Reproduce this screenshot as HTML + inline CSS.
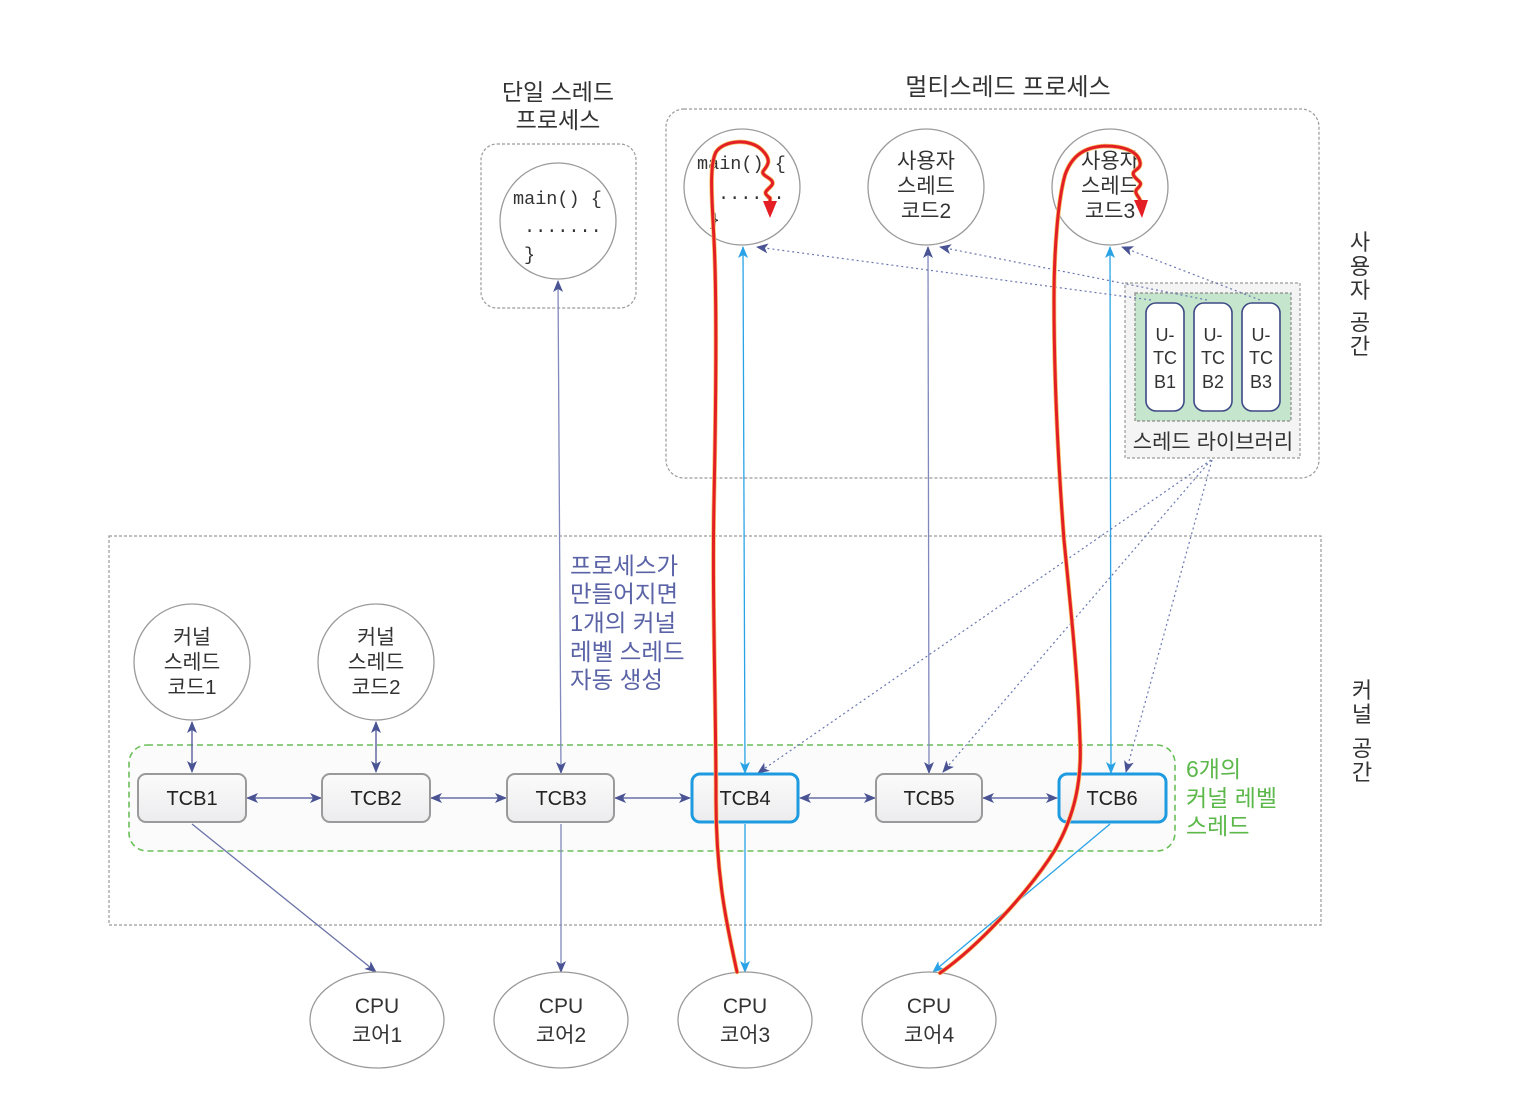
<!DOCTYPE html>
<html><head><meta charset="utf-8">
<style>
html,body{margin:0;padding:0;background:#fff;}
svg{display:block;}
text{font-family:"Liberation Sans","Noto Sans CJK KR",sans-serif;}
.mono{font-family:"Liberation Mono","DejaVu Sans Mono",monospace;}
</style></head>
<body>
<svg width="1524" height="1104" viewBox="0 0 1524 1104" xmlns="http://www.w3.org/2000/svg">
<defs>
<marker id="ad" viewBox="0 0 12 10" refX="11" refY="5" markerWidth="12" markerHeight="10" markerUnits="userSpaceOnUse" orient="auto-start-reverse">
<path d="M0,0 L12,5 L0,10 L3,5 z" fill="#4a5494"/></marker>
<marker id="ab" viewBox="0 0 12 10" refX="11" refY="5" markerWidth="12" markerHeight="10" markerUnits="userSpaceOnUse" orient="auto-start-reverse">
<path d="M0,0 L12,5 L0,10 L3,5 z" fill="#2aa3e6"/></marker>
<linearGradient id="tg" x1="0" y1="0" x2="0" y2="1">
<stop offset="0" stop-color="#fbfbfb"/><stop offset="1" stop-color="#ececee"/></linearGradient>
</defs>

<!-- titles -->
<text x="558" y="100" font-size="23" fill="#333" text-anchor="middle">단일 스레드</text>
<text x="558" y="128" font-size="23" fill="#333" text-anchor="middle">프로세스</text>
<text x="1008" y="95" font-size="24" fill="#333" text-anchor="middle">멀티스레드 프로세스</text>

<!-- single process box -->
<rect x="481" y="144" width="155" height="164" rx="16" fill="#fff" stroke="#9a9a9a" stroke-width="1.2" stroke-dasharray="3 2"/>
<circle cx="558" cy="221" r="58" fill="#fff" stroke="#9a9a9a" stroke-width="1.3"/>
<text class="mono" x="513" y="204" font-size="18.5" fill="#333">main() {</text>
<text class="mono" x="524" y="232" font-size="18.5" fill="#333">.......</text>
<text class="mono" x="524" y="260" font-size="18.5" fill="#333">}</text>

<!-- multi process box -->
<rect x="666" y="109" width="653" height="369" rx="18" fill="#fff" stroke="#9a9a9a" stroke-width="1.2" stroke-dasharray="3 2"/>
<circle cx="742" cy="187" r="58" fill="#fff" stroke="#9a9a9a" stroke-width="1.3"/>
<text class="mono" x="697" y="169" font-size="18.5" fill="#333">main() {</text>
<text class="mono" x="718" y="199" font-size="18.5" fill="#333">......</text>
<text class="mono" x="709" y="225" font-size="18.5" fill="#333">}</text>
<circle cx="926" cy="187" r="58" fill="#fff" stroke="#9a9a9a" stroke-width="1.3"/>
<text x="926" y="168" font-size="21" fill="#333" text-anchor="middle">사용자</text>
<text x="926" y="193" font-size="21" fill="#333" text-anchor="middle">스레드</text>
<text x="926" y="218" font-size="21" fill="#333" text-anchor="middle">코드2</text>
<circle cx="1110" cy="187" r="58" fill="#fff" stroke="#9a9a9a" stroke-width="1.3"/>
<text x="1110" y="168" font-size="21" fill="#333" text-anchor="middle">사용자</text>
<text x="1110" y="193" font-size="21" fill="#333" text-anchor="middle">스레드</text>
<text x="1110" y="218" font-size="21" fill="#333" text-anchor="middle">코드3</text>

<!-- thread library -->
<rect x="1125" y="283" width="175" height="175" fill="#f4f4f4" stroke="#9a9a9a" stroke-width="1.2" stroke-dasharray="3 2"/>
<rect x="1135" y="293" width="156" height="128" fill="#c6e5cd" stroke="#8a8a8a" stroke-width="1.2" stroke-dasharray="3 2"/>
<rect x="1146" y="303" width="38" height="108" rx="10" fill="#fff" stroke="#3e4a86" stroke-width="1.6"/>
<rect x="1194" y="303" width="38" height="108" rx="10" fill="#fff" stroke="#3e4a86" stroke-width="1.6"/>
<rect x="1242" y="303" width="38" height="108" rx="10" fill="#fff" stroke="#3e4a86" stroke-width="1.6"/>
<g font-size="18" fill="#333" text-anchor="middle">
<text x="1165" y="341">U-</text><text x="1165" y="364">TC</text><text x="1165" y="388">B1</text>
<text x="1213" y="341">U-</text><text x="1213" y="364">TC</text><text x="1213" y="388">B2</text>
<text x="1261" y="341">U-</text><text x="1261" y="364">TC</text><text x="1261" y="388">B3</text>
</g>
<text x="1213" y="449" font-size="21" fill="#333" text-anchor="middle">스레드 라이브러리</text>

<!-- kernel space box -->
<rect x="109" y="536" width="1212" height="389" fill="none" stroke="#9a9a9a" stroke-width="1.2" stroke-dasharray="3 2"/>

<!-- side labels -->
<text font-size="22" fill="#333" text-anchor="middle"><tspan x="1360" y="250">사</tspan><tspan x="1360" y="274">용</tspan><tspan x="1360" y="298">자</tspan><tspan x="1360" y="330">공</tspan><tspan x="1360" y="354">간</tspan></text>
<text font-size="22" fill="#333" text-anchor="middle"><tspan x="1362" y="698">커</tspan><tspan x="1362" y="722">널</tspan><tspan x="1362" y="756">공</tspan><tspan x="1362" y="780">간</tspan></text>

<!-- kernel thread circles -->
<circle cx="192" cy="662" r="58" fill="#fff" stroke="#9a9a9a" stroke-width="1.3"/>
<text x="192" y="644" font-size="20.5" fill="#333" text-anchor="middle">커널</text>
<text x="192" y="669" font-size="20.5" fill="#333" text-anchor="middle">스레드</text>
<text x="192" y="694" font-size="20.5" fill="#333" text-anchor="middle">코드1</text>
<circle cx="376" cy="662" r="58" fill="#fff" stroke="#9a9a9a" stroke-width="1.3"/>
<text x="376" y="644" font-size="20.5" fill="#333" text-anchor="middle">커널</text>
<text x="376" y="669" font-size="20.5" fill="#333" text-anchor="middle">스레드</text>
<text x="376" y="694" font-size="20.5" fill="#333" text-anchor="middle">코드2</text>

<!-- blue note -->
<g font-size="23.5" fill="#5a63a6">
<text x="570" y="574">프로세스가</text>
<text x="570" y="602">만들어지면</text>
<text x="570" y="631">1개의 커널</text>
<text x="570" y="660">레벨 스레드</text>
<text x="570" y="688">자동 생성</text>
</g>

<!-- green dashed group -->
<rect x="129" y="745" width="1046" height="106" rx="18" fill="#fbfbfc" stroke="#6bbf59" stroke-width="1.6" stroke-dasharray="6 4"/>
<g font-size="23" fill="#5cb84a">
<text x="1186" y="777">6개의</text>
<text x="1186" y="806">커널 레벨</text>
<text x="1186" y="834">스레드</text>
</g>

<!-- connectors (solid) -->
<g stroke-width="1.3" fill="none">
<line x1="192" y1="722" x2="192" y2="772" stroke="#4a5494" marker-start="url(#ad)" marker-end="url(#ad)"/>
<line x1="376" y1="722" x2="376" y2="772" stroke="#4a5494" marker-start="url(#ad)" marker-end="url(#ad)"/>
<line x1="247" y1="798" x2="321" y2="798" stroke="#4a5494" marker-start="url(#ad)" marker-end="url(#ad)"/>
<line x1="431" y1="798" x2="506" y2="798" stroke="#4a5494" marker-start="url(#ad)" marker-end="url(#ad)"/>
<line x1="615" y1="798" x2="690" y2="798" stroke="#4a5494" marker-start="url(#ad)" marker-end="url(#ad)"/>
<line x1="800" y1="798" x2="875" y2="798" stroke="#4a5494" marker-start="url(#ad)" marker-end="url(#ad)"/>
<line x1="983" y1="798" x2="1057" y2="798" stroke="#4a5494" marker-start="url(#ad)" marker-end="url(#ad)"/>
<line x1="558" y1="281" x2="561" y2="773" stroke="#8088bc" marker-start="url(#ad)" marker-end="url(#ad)"/>
<line x1="561" y1="824" x2="561" y2="972" stroke="#8088bc" marker-end="url(#ad)"/>
<line x1="192" y1="824" x2="376" y2="972" stroke="#6a72a8" marker-end="url(#ad)"/>
<line x1="928" y1="247" x2="929" y2="773" stroke="#8088bc" marker-start="url(#ad)" marker-end="url(#ad)"/>
<line x1="743" y1="247" x2="745" y2="773" stroke="#2aa3e6" marker-start="url(#ab)" marker-end="url(#ab)"/>
<line x1="745" y1="824" x2="745" y2="972" stroke="#2aa3e6" marker-end="url(#ab)"/>
<line x1="1110" y1="247" x2="1111" y2="773" stroke="#2aa3e6" marker-start="url(#ab)" marker-end="url(#ab)"/>
<line x1="1110" y1="824" x2="933" y2="972" stroke="#2aa3e6" marker-end="url(#ab)"/>
</g>

<!-- dotted connectors -->
<g stroke="#6a78b0" stroke-width="1.2" stroke-dasharray="2 3" fill="none">
<line x1="1151" y1="300" x2="757" y2="247" marker-end="url(#ad)"/>
<line x1="1207" y1="300" x2="940" y2="247" marker-end="url(#ad)"/>
<line x1="1260" y1="300" x2="1122" y2="247" marker-end="url(#ad)"/>
<line x1="1211" y1="460" x2="758" y2="773" marker-end="url(#ad)"/>
<line x1="1211" y1="460" x2="943" y2="772" marker-end="url(#ad)"/>
<line x1="1212" y1="460" x2="1126" y2="772" marker-end="url(#ad)"/>
</g>

<!-- TCB boxes -->
<g font-size="20" fill="#222" text-anchor="middle">
<rect x="138" y="774" width="108" height="48" rx="8" fill="url(#tg)" stroke="#9a9a9a" stroke-width="2"/>
<text x="192" y="805">TCB1</text>
<rect x="322" y="774" width="108" height="48" rx="8" fill="url(#tg)" stroke="#9a9a9a" stroke-width="2"/>
<text x="376" y="805">TCB2</text>
<rect x="507" y="774" width="107" height="48" rx="8" fill="url(#tg)" stroke="#9a9a9a" stroke-width="2"/>
<text x="561" y="805">TCB3</text>
<rect x="692" y="774" width="106" height="48" rx="8" fill="url(#tg)" stroke="#1e9be0" stroke-width="3"/>
<text x="745" y="805">TCB4</text>
<rect x="876" y="774" width="106" height="48" rx="8" fill="url(#tg)" stroke="#9a9a9a" stroke-width="2"/>
<text x="929" y="805">TCB5</text>
<rect x="1059" y="774" width="107" height="48" rx="8" fill="url(#tg)" stroke="#1e9be0" stroke-width="3"/>
<text x="1112" y="805">TCB6</text>
</g>

<!-- CPU cores -->
<g font-size="21" fill="#333" text-anchor="middle">
<ellipse cx="377" cy="1020" rx="67" ry="48" fill="#fff" stroke="#9a9a9a" stroke-width="1.3"/>
<text x="377" y="1013">CPU</text><text x="377" y="1042">코어1</text>
<ellipse cx="561" cy="1020" rx="67" ry="48" fill="#fff" stroke="#9a9a9a" stroke-width="1.3"/>
<text x="561" y="1013">CPU</text><text x="561" y="1042">코어2</text>
<ellipse cx="745" cy="1020" rx="67" ry="48" fill="#fff" stroke="#9a9a9a" stroke-width="1.3"/>
<text x="745" y="1013">CPU</text><text x="745" y="1042">코어3</text>
<ellipse cx="929" cy="1020" rx="67" ry="48" fill="#fff" stroke="#9a9a9a" stroke-width="1.3"/>
<text x="929" y="1013">CPU</text><text x="929" y="1042">코어4</text>
</g>

<!-- red execution flows -->
<g fill="none" stroke-linecap="round" stroke-linejoin="round">
<path d="M737 972 C728 930,716 880,716 800 C716 700,712 600,714 500 C716 400,717 300,714 240 C712 200,709 165,716 152 C724 140,750 138,762 150 C772 160,768 165,764 170 C758 176,776 178,772 185 C766 192,762 192,770 198 L770 204" stroke="#f6c066" stroke-width="4.5"/>
<path d="M737 972 C728 930,716 880,716 800 C716 700,712 600,714 500 C716 400,717 300,714 240 C712 200,709 165,716 152 C724 140,750 138,762 150 C772 160,768 165,764 170 C758 176,776 178,772 185 C766 192,762 192,770 198 L770 204" stroke="#e31e24" stroke-width="3"/>
<path d="M940 973 C980 945,1030 890,1055 850 C1075 815,1082 780,1080 740 C1078 680,1072 620,1064 540 C1058 460,1054 380,1054 300 C1054 250,1058 200,1065 175 C1072 155,1085 147,1105 146 C1125 146,1138 152,1140 162 C1142 170,1130 170,1134 176 C1138 182,1144 182,1138 188 C1132 193,1140 196,1141 203" stroke="#f6c066" stroke-width="4.5"/>
<path d="M940 973 C980 945,1030 890,1055 850 C1075 815,1082 780,1080 740 C1078 680,1072 620,1064 540 C1058 460,1054 380,1054 300 C1054 250,1058 200,1065 175 C1072 155,1085 147,1105 146 C1125 146,1138 152,1140 162 C1142 170,1130 170,1134 176 C1138 182,1144 182,1138 188 C1132 193,1140 196,1141 203" stroke="#e31e24" stroke-width="3"/>
</g>
<polygon points="763,201 777,201 770,218" fill="#e31e24"/>
<polygon points="1134,200 1148,200 1142,218" fill="#e31e24"/>
</svg>
</body></html>
